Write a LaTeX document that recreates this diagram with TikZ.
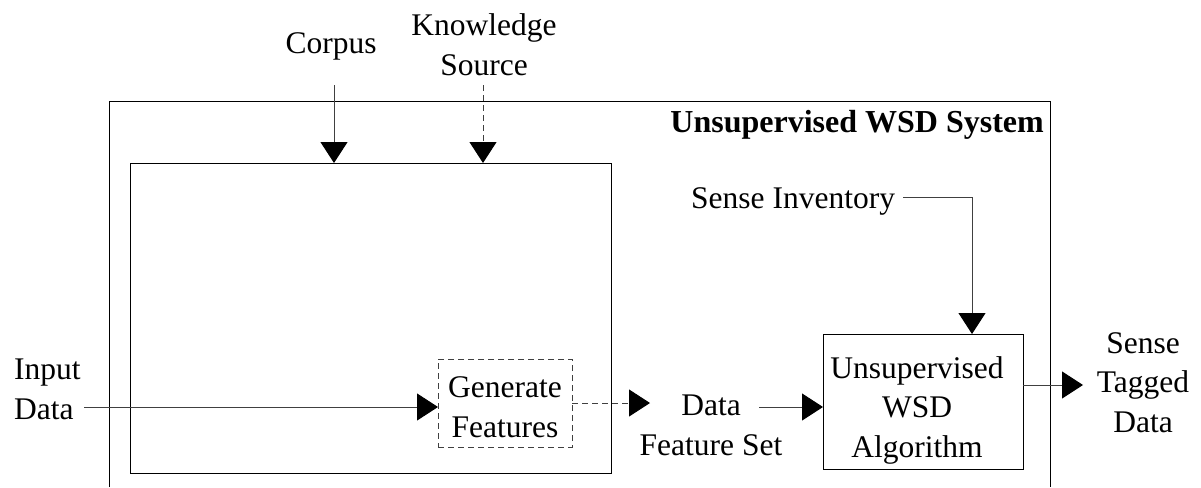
\documentclass[tikz,border=0pt]{standalone}
\usepackage{fontspec}
\setmainfont{Liberation Serif}
\usetikzlibrary{arrows.meta}
\begin{document}
\begin{tikzpicture}[x=1pt,y=-1pt,
  every node/.style={font=\fontsize{31.5}{39.5}\selectfont, inner sep=0pt},
  lbl/.style={align=center, anchor=base},
  box/.style={draw=black, line width=1pt},
  conn/.style={draw=black!75, line width=1pt},
  tip/.style={-{Triangle[length=21pt,width=27pt,color=black]}},
  dsh/.style={dash pattern=on 6pt off 4pt}]
\useasboundingbox (0,0) rectangle (1201,487);
% outer system box (open at bottom)
\coordinate (obl) at (109,487);
\coordinate (obr) at (1050,487);
\draw[box] (obl) |- (1050,101) -- (obr);
\node[anchor=base east, font=\fontsize{32}{39.5}\selectfont\bfseries] (title) at (1044,132) {Unsupervised WSD System};
% inner box
\node[box, minimum width=481pt, minimum height=310pt] (inner) at (370.5,318) {};
% generate features
\node[draw=black!75, line width=1pt, dsh, minimum width=134pt, minimum height=88pt] (gen) at (505,403) {};
\node[lbl] (gent) at (505,437) {Generate\\Features};
% algorithm
\node[box, minimum width=200pt, minimum height=135pt] (algo) at (923,401.5) {};
\node[lbl] (algot) at (917,457) {Unsupervised\\WSD\\Algorithm};
% labels
\node[lbl] (corpus) at (331,54) {Corpus};
\node[lbl] (know) at (484,75) {Knowledge\\Source};
\node[anchor=base west] (sinv) at (691,208) {Sense Inventory};
\node[anchor=base west, align=left] (input) at (14,419) {Input\\Data};
\node[lbl] (dfs) at (711,455) {Data\\Feature Set};
\node[lbl] (std) at (1143,432) {Sense\\Tagged\\Data};
% connector ends
\coordinate (cs) at (334,85);
\coordinate (ce) at (334,163);
\coordinate (ks) at (483,85);
\coordinate (ke) at (483,163);
\coordinate (ins) at (84,407);
\coordinate (ine) at (438,407);
\coordinate (gs) at (572,403);
\coordinate (ge) at (650,403);
\coordinate (ds) at (759,407);
\coordinate (de) at (823,407);
\coordinate (ss) at (903,197);
\coordinate (sc) at (972,197);
\coordinate (se) at (972,334);
\coordinate (os) at (1023,385);
\coordinate (oe) at (1083,385);
% connectors
\draw[conn, tip] (cs) -- (ce);
\draw[conn, tip, dsh] (ks) -- (ke);
\draw[conn, tip] (ins) -- (ine);
\draw[conn, tip, dsh] (gs) -- (ge);
\draw[conn, tip] (ds) -- (de);
\draw[conn, tip] (ss) -- (sc) -- (se);
\draw[conn, tip] (os) -- (oe);
\end{tikzpicture}
\end{document}
